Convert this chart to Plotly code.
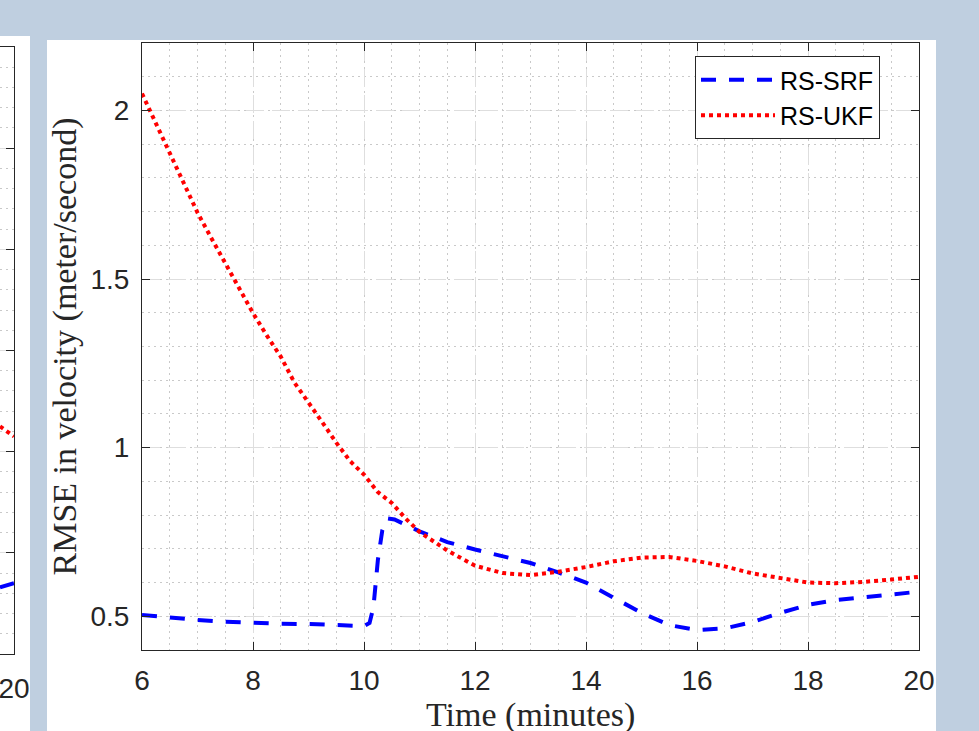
import plotly.graph_objects as go

# ---- data ----
t_srf = [6, 6.5, 7, 7.5, 8, 8.5, 9, 9.5, 10, 10.1, 10.17, 10.25, 10.33, 10.42, 10.55,
         11, 11.5, 12, 12.5, 13, 13.5, 14, 14.5, 15, 15.5, 16, 16.5, 17, 17.5, 18,
         18.5, 19, 19.5, 20]
rs_srf = [0.504, 0.496, 0.489, 0.484, 0.480, 0.478, 0.477, 0.474, 0.471, 0.480, 0.527,
          0.667, 0.755, 0.790, 0.787, 0.752, 0.720, 0.698, 0.679, 0.658, 0.630, 0.600,
          0.555, 0.510, 0.474, 0.459, 0.464, 0.483, 0.510, 0.534, 0.548, 0.557, 0.566,
          0.573]

t_ukf = [6, 6.25, 6.5, 6.75, 7, 7.25, 7.5, 7.75, 8, 8.25, 8.5, 8.75, 9, 9.25, 9.5,
         9.75, 10, 10.25, 10.5, 10.75, 11, 11.5, 12, 12.5, 13, 13.5, 14, 14.5, 15,
         15.5, 16, 16.5, 17, 17.5, 18, 18.5, 19, 19.5, 20]
rs_ukf = [2.05, 1.96, 1.873, 1.782, 1.697, 1.621, 1.548, 1.472, 1.399, 1.332, 1.27,
          1.192, 1.135, 1.075, 1.015, 0.96, 0.92, 0.868, 0.836, 0.79, 0.75, 0.695,
          0.65, 0.628, 0.622, 0.632, 0.646, 0.663, 0.674, 0.676, 0.664, 0.648, 0.627,
          0.612, 0.600, 0.598, 0.602, 0.609, 0.617]

x_ticks = [6, 8, 10, 12, 14, 16, 18, 20]
y_ticks = [0.5, 1, 1.5, 2]
y_tick_text = ["0.5", "1", "1.5", "2"]

# neighbouring (cropped) panel on the left edge
t_left = [19.75, 20]
srf_left = [0.66, 0.70]
ukf_left = [2.25, 2.15]
left_x_ticks = [20]
left_y_ticks = [0, 1, 2, 3, 4, 5, 6]

W, H = 979, 731
AX = "#262626"
MAJ = "#DEDEDE"
MIN = "#C9C9C9"
SANS = "Liberation Sans"
SERIF = "Liberation Serif"

fig = go.Figure()

fig.add_trace(go.Scatter(x=t_srf, y=rs_srf, mode="lines", name="RS-SRF",
                         line=dict(color="#0000FF", width=4, dash="15px,13px"),
                         xaxis="x", yaxis="y"))
fig.add_trace(go.Scatter(x=t_ukf, y=rs_ukf, mode="lines", name="RS-UKF",
                         line=dict(color="#FF0000", width=4, dash="dot"),
                         xaxis="x", yaxis="y"))
fig.add_trace(go.Scatter(x=t_left, y=srf_left, mode="lines", showlegend=False,
                         line=dict(color="#0000FF", width=4, dash="15px,13px"),
                         xaxis="x2", yaxis="y2"))
fig.add_trace(go.Scatter(x=t_left, y=ukf_left, mode="lines", showlegend=False,
                         line=dict(color="#FF0000", width=4, dash="dot"),
                         xaxis="x2", yaxis="y2"))

common = dict(showline=True, linecolor=AX, linewidth=1, ticks="inside", ticklen=8,
              tickcolor=AX, tickwidth=1, zeroline=False, showgrid=True,
              gridcolor=MAJ, gridwidth=1, griddash="18px,8px", automargin=False,
              ticklabeloverflow="allow",
              tickfont=dict(family=SANS, size=28, color=AX))

fig.update_layout(
    width=W, height=H,
    autosize=False,
    margin=dict(l=0, r=0, t=0, b=0, pad=0),
    paper_bgcolor="#BFCFE0",
    plot_bgcolor="white",
    xaxis=dict(domain=[142 / W, 919 / W], range=[6, 20], tickvals=x_ticks,
               mirror="ticks", anchor="y", ticklabelstandoff=5,
               minor=dict(dtick=0.5, tick0=6, showgrid=True, gridcolor=MIN,
                          griddash="2px,4px", ticks=""),
               **common),
    yaxis=dict(domain=[(H - 650) / H, (H - 43) / H], range=[0.4, 2.2],
               tickvals=y_ticks, ticktext=y_tick_text, mirror="ticks", anchor="x",
               ticklabelstandoff=6,
               minor=dict(dtick=0.1, tick0=0.4, showgrid=True, gridcolor=MIN,
                          griddash="2px,4px", ticks=""),
               **common),
    xaxis2=dict(domain=[0, 14 / W], range=[19.75, 20], tickvals=left_x_ticks,
                mirror=True, anchor="y2", ticklabelstandoff=9,
                **common),
    yaxis2=dict(domain=[(H - 654) / H, (H - 47) / H], range=[0, 6],
                tickvals=left_y_ticks, side="right", showticklabels=False,
                anchor="x2",
                minor=dict(dtick=0.2, showgrid=True, gridcolor=MIN,
                           griddash="2px,4px", ticks=""),
                **common),
    legend=dict(x=695 / W, y=(H - 56) / H, xanchor="left", yanchor="top",
                bgcolor="white", bordercolor=AX, borderwidth=1,
                font=dict(family=SANS, size=25, color="black"),
                itemwidth=74, tracegroupgap=0),
    shapes=[
        dict(type="rect", xref="paper", yref="paper", x0=47 / W, x1=936 / W,
             y0=0, y1=(H - 40) / H, fillcolor="white", line=dict(width=0),
             layer="below"),
        dict(type="rect", xref="paper", yref="paper", x0=0, x1=30 / W,
             y0=0, y1=(H - 36) / H, fillcolor="white", line=dict(width=0),
             layer="below"),
    ],
    annotations=[
        dict(text="Time (minutes)", xref="paper", yref="paper", x=530.5 / W,
             y=(H - 715) / H, xanchor="center", yanchor="middle", showarrow=False,
             font=dict(family=SERIF, size=34, color=AX)),
        dict(text="RMSE in velocity (meter/second)", xref="paper", yref="paper",
             x=64 / W, y=(H - 346.5) / H, xanchor="center", yanchor="middle",
             textangle=-90, showarrow=False,
             font=dict(family=SERIF, size=34, color=AX)),
    ],
)

fig.write_html(
    "out.html",
    config={"responsive": False, "displayModeBar": False},
    post_script="document.body.style.margin='0px';document.body.style.overflow='hidden';",
)
